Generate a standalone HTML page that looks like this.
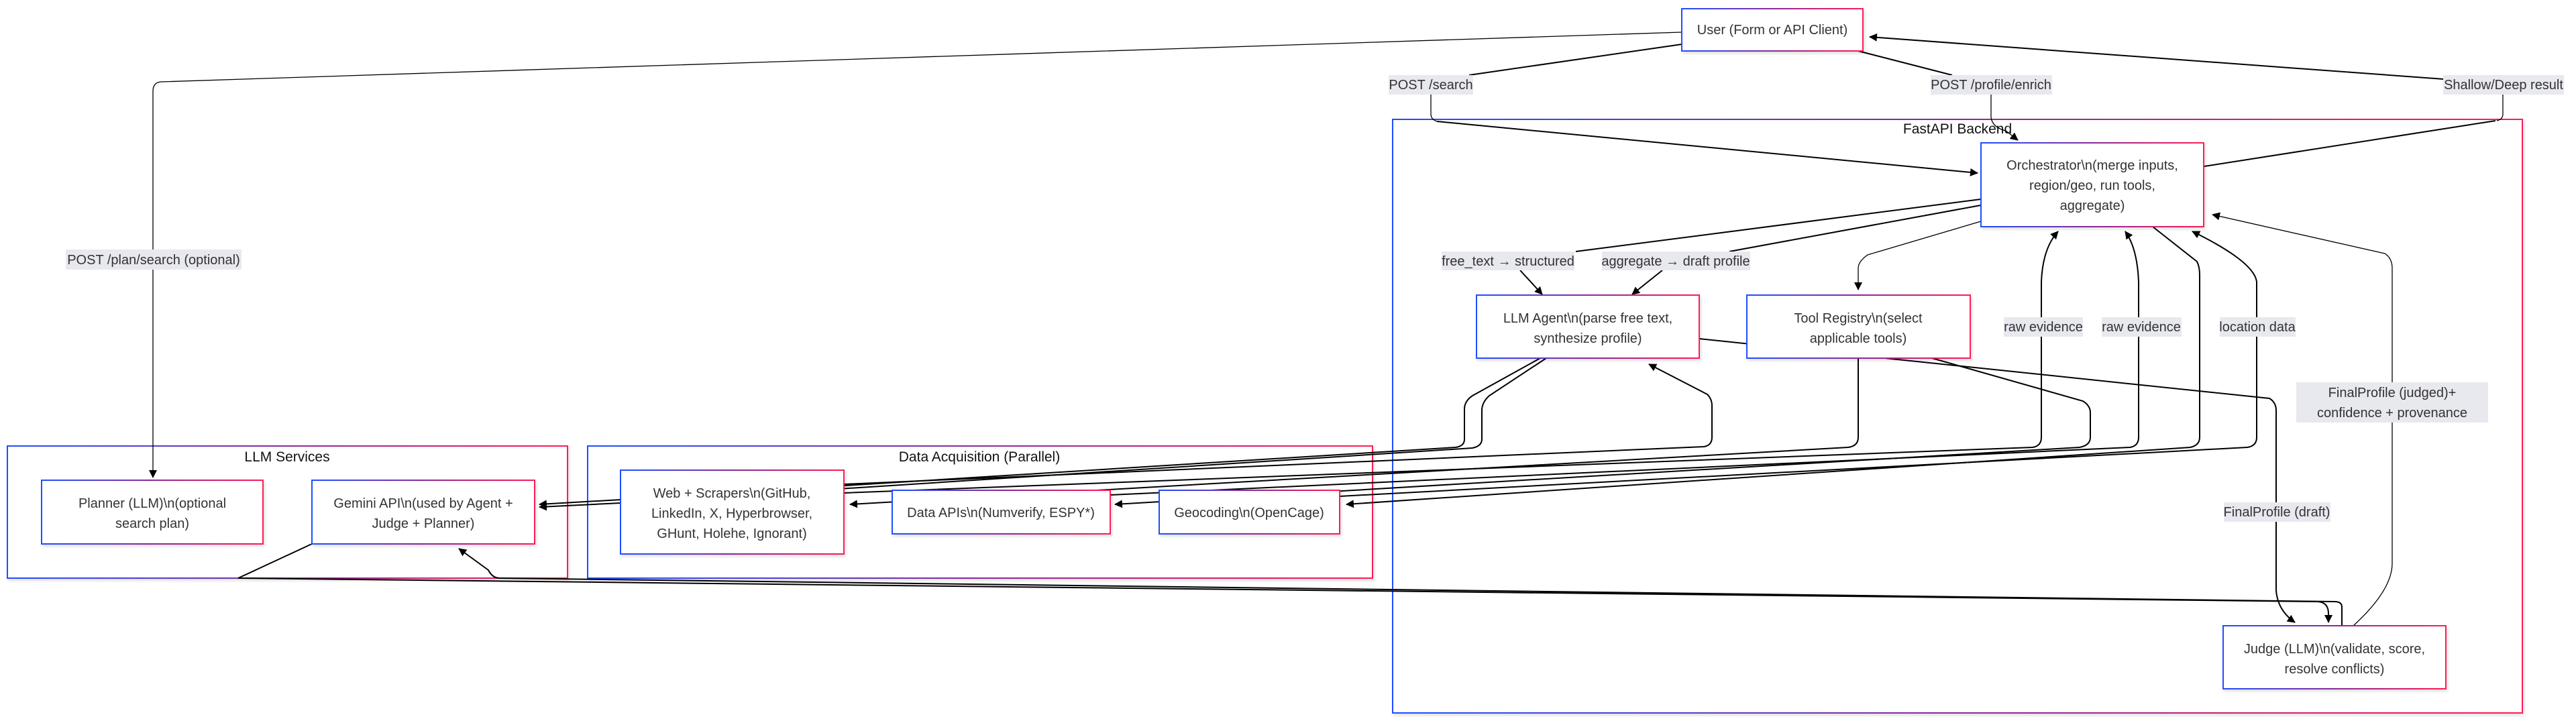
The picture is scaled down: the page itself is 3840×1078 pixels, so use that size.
<!DOCTYPE html>
<html><head><meta charset="utf-8"><style>
html,body{margin:0;padding:0;background:#fff;}
svg{display:block;}
text{font-family:"Liberation Sans",Arial,sans-serif;fill:#333;}
.n{font-size:20px;text-anchor:middle;}
.l{font-size:20px;text-anchor:middle;}
.c{font-size:21px;text-anchor:middle;fill:#111;}
.e{fill:none;stroke:#000;stroke-width:2;}
.et{fill:none;stroke:#000;stroke-width:1.3;}
.lb{fill:#e8e8ef;}
</style></head><body>
<svg width="3840" height="1078" viewBox="0 0 3840 1078" xmlns="http://www.w3.org/2000/svg">
<defs>
<linearGradient id="g" x1="0" y1="0" x2="1" y2="0"><stop offset="0" stop-color="#1f4fff"/><stop offset="0.5" stop-color="#8a2a9a"/><stop offset="1" stop-color="#ff1a55"/></linearGradient>
<marker id="a" viewBox="0 0 12 12" refX="11" refY="6" markerWidth="12" markerHeight="12" markerUnits="userSpaceOnUse" orient="auto"><path d="M0,0 L12,6 L0,12 z" fill="#000"/></marker>
<filter id="sh" x="-5%" y="-5%" width="110%" height="115%"><feDropShadow dx="2" dy="3" stdDeviation="2" flood-color="#000" flood-opacity="0.12"/></filter>
</defs>

<!-- clusters -->
<rect x="2076" y="178" width="1684" height="885" fill="#fff" stroke="url(#g)" stroke-width="2" filter="url(#sh)"/>
<text class="c" x="2918" y="199">FastAPI Backend</text>
<rect x="11" y="665" width="835" height="197" fill="#fff" stroke="url(#g)" stroke-width="2" filter="url(#sh)"/>
<text class="c" x="428" y="688">LLM Services</text>
<rect x="876" y="665" width="1170" height="197" fill="#fff" stroke="url(#g)" stroke-width="2" filter="url(#sh)"/>
<text class="c" x="1460" y="688">Data Acquisition (Parallel)</text>

<!-- edges -->
<!-- User -> Planner -->
<path class="et" d="M2507,48 L240,122 Q228,123 228,136 L228,712" marker-end="url(#a)"/>
<!-- User -> POST /search -> Orchestrator -->
<path class="e" d="M2507,66 L2190,112"/>
<path class="et" d="M2133,141 L2133,170 Q2133,178 2142,181"/>
<path class="e" d="M2142,181 L2948,258" marker-end="url(#a)"/>
<!-- User -> /profile/enrich -->
<path class="e" d="M2770,76 L2910,112"/>
<path class="et" d="M2968,141 L2968,175 Q2970,190 2990,195 L3008,209" marker-end="url(#a)"/>
<!-- Orchestrator -> Shallow -> User -->
<path class="e" d="M3286,248 L3720,180"/>
<path class="et" d="M3731,141 L3731,170 Q3731,178 3722,180"/>
<path class="e" d="M3643,118 L2787,55" marker-end="url(#a)"/>
<!-- Orchestrator -> LLM Agent -->
<path class="e" d="M2953,297 L2349,375"/>
<path class="e" d="M2266,403 L2299,439" marker-end="url(#a)"/>
<path class="e" d="M2953,306 L2578,375"/>
<path class="e" d="M2478,403 L2433,439" marker-end="url(#a)"/>
<!-- Orchestrator -> Tool Registry -->
<path class="et" d="M2953,330 L2784,380 Q2770,390 2770,400 L2770,432" marker-end="url(#a)"/>
<!-- LLM Agent -> Gemini -->
<path class="e" d="M2296,534 L2195,590 Q2183,598 2183,610 L2183,655 Q2183,665 2170,667 L925,745 L804,752" marker-end="url(#a)"/>
<path class="e" d="M2305,534 L2220,590 Q2209,600 2209,612 L2209,655 Q2209,665 2195,668 L925,750 L804,756" marker-end="url(#a)"/>
<!-- Web -> Agent -->
<path class="e" d="M1258,722 L2540,666 Q2552,664 2552,652 L2552,605 Q2552,595 2545,588 L2458,543" marker-end="url(#a)"/>
<!-- Tool Registry -> Web -->
<path class="e" d="M2770,534 L2770,652 Q2770,665 2755,667 L1267,752" marker-end="url(#a)"/>
<!-- Tool Registry -> Data APIs -->
<path class="e" d="M2880,534 L3105,598 Q3116,605 3116,615 L3116,652 Q3116,664 3100,667 L1662,752" marker-end="url(#a)"/>
<!-- Orchestrator -> Geocoding -->
<path class="e" d="M3209,338 L3275,390 Q3279,398 3279,410 L3279,652 Q3279,664 3265,667 L2007,752" marker-end="url(#a)"/>
<!-- Web -> Orchestrator raw evidence -->
<path class="e" d="M1258,735 L3030,667 Q3043,665 3043,652 L3043,420 Q3045,370 3068,345" marker-end="url(#a)"/>
<path class="e" d="M1655,738 L3175,667 Q3188,665 3188,652 L3188,420 Q3186,370 3168,345" marker-end="url(#a)"/>
<path class="e" d="M1997,740 L3350,667 Q3364,665 3364,652 L3364,420 Q3360,390 3268,345" marker-end="url(#a)"/>
<!-- Gemini -> Judge -->
<path class="e" d="M495,797 L355,862 L3455,897 Q3471,898 3471,915 L3471,928" marker-end="url(#a)"/>
<!-- Judge -> Gemini -->
<path class="e" d="M3491,933 L3491,905 Q3491,897 3480,897 L745,862 Q734,862 728,850 L684,818" marker-end="url(#a)"/>
<!-- Agent -> Judge -->
<path class="e" d="M2533,505 L3383,594 Q3393,600 3393,612 L3393,880 Q3395,910 3421,928" marker-end="url(#a)"/>
<!-- Judge -> Orchestrator -->
<path class="et" d="M3508,933 Q3566,880 3566,840 L3566,400 Q3566,385 3555,378 L3298,320" marker-end="url(#a)"/>

<!-- edge labels -->
<rect class="lb" x="98" y="372" width="262" height="30"/><text class="l" x="229" y="394">POST /plan/search (optional)</text>
<rect class="lb" x="2070" y="112" width="126" height="29"/><text class="l" x="2133" y="133">POST /search</text>
<rect class="lb" x="2878" y="112" width="181" height="29"/><text class="l" x="2968" y="133">POST /profile/enrich</text>
<rect class="lb" x="3642" y="112" width="180" height="29"/><text class="l" x="3732" y="133">Shallow/Deep result</text>
<rect class="lb" x="2149" y="375" width="198" height="28"/><text class="l" x="2248" y="396">free_text → structured</text>
<rect class="lb" x="2388" y="375" width="221" height="28"/><text class="l" x="2498" y="396">aggregate → draft profile</text>
<rect class="lb" x="2987" y="473" width="118" height="29"/><text class="l" x="3046" y="494">raw evidence</text>
<rect class="lb" x="3133" y="473" width="119" height="29"/><text class="l" x="3192" y="494">raw evidence</text>
<rect class="lb" x="3309" y="473" width="113" height="29"/><text class="l" x="3365" y="494">location data</text>
<rect class="lb" x="3315" y="749" width="159" height="29"/><text class="l" x="3394" y="770">FinalProfile (draft)</text>
<rect class="lb" x="3423" y="570" width="286" height="60"/><text class="l" x="3566" y="592">FinalProfile (judged)+</text><text class="l" x="3566" y="622">confidence + provenance</text>

<!-- nodes -->
<g filter="url(#sh)" fill="#fff" stroke="url(#g)" stroke-width="2">
<rect x="2507" y="13" width="270" height="63"/>
<rect x="2953" y="213" width="332" height="125"/>
<rect x="2201" y="440" width="332" height="94"/>
<rect x="2604" y="440" width="333" height="94"/>
<rect x="3314" y="933" width="332" height="94"/>
<rect x="62" y="716" width="330" height="95"/>
<rect x="465" y="716" width="332" height="95"/>
<rect x="925" y="701" width="333" height="125"/>
<rect x="1330" y="731" width="325" height="65"/>
<rect x="1728" y="731" width="269" height="65"/>
</g>
<text class="n" x="2642" y="51">User (Form or API Client)</text>
<text class="n" x="3119" y="253">Orchestrator\n(merge inputs,</text>
<text class="n" x="3119" y="283">region/geo, run tools,</text>
<text class="n" x="3119" y="313">aggregate)</text>
<text class="n" x="2367" y="481">LLM Agent\n(parse free text,</text>
<text class="n" x="2367" y="511">synthesize profile)</text>
<text class="n" x="2770" y="481">Tool Registry\n(select</text>
<text class="n" x="2770" y="511">applicable tools)</text>
<text class="n" x="3480" y="974">Judge (LLM)\n(validate, score,</text>
<text class="n" x="3480" y="1004">resolve conflicts)</text>
<text class="n" x="227" y="757">Planner (LLM)\n(optional</text>
<text class="n" x="227" y="787">search plan)</text>
<text class="n" x="631" y="757">Gemini API\n(used by Agent +</text>
<text class="n" x="631" y="787">Judge + Planner)</text>
<text class="n" x="1091" y="742">Web + Scrapers\n(GitHub,</text>
<text class="n" x="1091" y="772">LinkedIn, X, Hyperbrowser,</text>
<text class="n" x="1091" y="802">GHunt, Holehe, Ignorant)</text>
<text class="n" x="1492" y="771">Data APIs\n(Numverify, ESPY*)</text>
<text class="n" x="1862" y="771">Geocoding\n(OpenCage)</text>
</svg>
</body></html>
